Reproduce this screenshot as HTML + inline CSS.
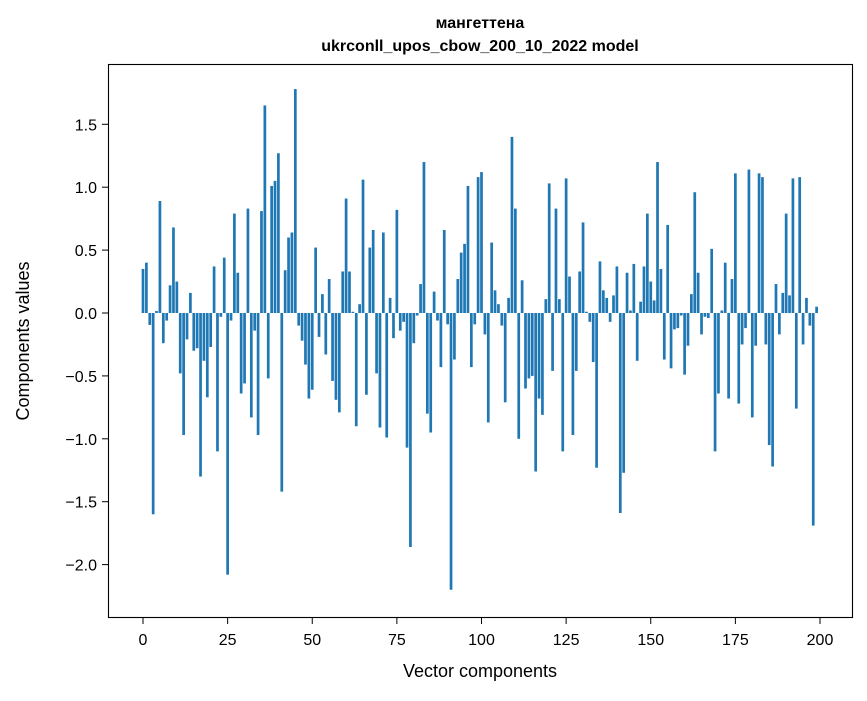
<!DOCTYPE html>
<html><head><meta charset="utf-8"><style>
body{margin:0;background:#fff;}
svg text{font-family:"Liberation Sans","DejaVu Sans",sans-serif;fill:#000;}
</style></head><body>
<svg id="chart" width="867" height="696" xmlns="http://www.w3.org/2000/svg">
<rect x="0" y="0" width="867" height="696" fill="#fff"/>
<text x="480" y="28" text-anchor="middle" font-size="16" font-weight="bold">мангеттена</text>
<text x="480" y="51" text-anchor="middle" font-size="16" font-weight="bold">ukrconll_upos_cbow_200_10_2022 model</text>
<g id="bars"></g>
<g id="xticks"></g>
<g id="yticks"></g>
<rect x="108.5" y="64.5" width="744" height="553" fill="none" stroke="#000" stroke-width="1.1"/>
<text x="480" y="677" text-anchor="middle" font-size="18">Vector components</text>
<text transform="translate(29,341) rotate(-90)" text-anchor="middle" font-size="18">Components values</text>
</svg>
<script>
const values = [0.35,0.40,-0.095,-1.60,0.016,0.89,-0.24,-0.06,0.22,0.68,
0.25,-0.48,-0.97,-0.21,0.16,-0.30,-0.28,-1.30,-0.38,-0.67,
-0.27,0.37,-1.10,-0.03,0.44,-2.08,-0.06,0.79,0.32,-0.64,
-0.56,0.83,-0.83,-0.14,-0.97,0.81,1.65,-0.52,1.01,1.05,
1.27,-1.42,0.34,0.60,0.64,1.78,-0.10,-0.22,-0.41,-0.68,
-0.61,0.52,-0.19,0.15,-0.33,0.27,-0.54,-0.69,-0.79,0.33,
0.91,0.33,0.01,-0.90,0.07,1.06,-0.65,0.52,0.66,-0.48,
-0.91,0.64,-0.99,0.12,-0.20,0.82,-0.14,-0.07,-1.07,-1.86,
-0.24,-0.02,0.23,1.20,-0.80,-0.95,0.17,-0.06,-0.43,0.66,
-0.09,-2.20,-0.37,0.27,0.48,0.55,1.01,-0.43,-0.09,1.08,
1.12,-0.17,-0.87,0.56,0.18,0.07,-0.10,-0.71,0.12,1.40,
0.83,-1.00,0.26,-0.60,-0.52,-0.50,-1.26,-0.68,-0.81,0.11,
1.03,-0.46,0.83,0.11,-1.10,1.07,0.29,-0.97,-0.46,0.33,
0.72,0.01,-0.07,-0.39,-1.23,0.41,0.18,0.12,-0.07,0.14,
0.37,-1.59,-1.27,0.32,0.02,0.39,-0.38,0.09,0.37,0.79,
0.25,0.10,1.20,0.35,-0.37,0.70,-0.44,-0.13,-0.12,-0.02,
-0.49,-0.26,0.15,0.96,0.32,-0.17,-0.03,-0.04,0.51,-1.10,
-0.64,0.02,0.40,-0.68,0.27,1.11,-0.72,-0.25,-0.12,1.14,
-0.83,-0.26,1.11,1.08,-0.25,-1.05,-1.22,0.23,-0.17,0.16,
0.79,0.14,1.07,-0.76,1.08,-0.25,0.12,-0.10,-1.69,0.05];
const xTickValues = [0,25,50,75,100,125,150,175,200];
const yTickValues = [1.5,1.0,0.5,0.0,-0.5,-1.0,-1.5,-2.0];
const yTickLabels = ["1.5","1.0","0.5","0.0","\u22120.5","\u22121.0","\u22121.5","\u22122.0"];

const NS="http://www.w3.org/2000/svg";
function xScale(v){return 143+v*3.385;}
function yScale(v){return 313-v*125.8;}
const bars=document.getElementById('bars');
values.forEach((v,i)=>{
  const r=document.createElementNS(NS,'rect');
  
  
  const x0=xScale(i-0.4), x1=xScale(i+0.4);
  const y0=Math.min(yScale(v),yScale(0)), y1=Math.max(yScale(v),yScale(0));
  r.setAttribute('x',x0);r.setAttribute('width',x1-x0);
  r.setAttribute('y',y0);r.setAttribute('height',Math.max(y1-y0,0.3));
  r.setAttribute('fill','#1f77b4');
  bars.appendChild(r);
});
const xg=document.getElementById('xticks');
xTickValues.forEach(t=>{
  const x=xScale(t);
  const l=document.createElementNS(NS,'line');
  
  
  l.setAttribute('x1',x);l.setAttribute('x2',x);l.setAttribute('y1',618);l.setAttribute('y2',624);
  l.setAttribute('stroke','#000');
  xg.appendChild(l);
  const tx=document.createElementNS(NS,'text');
  
  
  tx.setAttribute('x',x);tx.setAttribute('y',645);tx.setAttribute('text-anchor','middle');tx.setAttribute('font-size','16');
  tx.textContent=t;
  xg.appendChild(tx);
});
const yg=document.getElementById('yticks');
yTickValues.forEach((t,i)=>{
  const y=yScale(t);
  const l=document.createElementNS(NS,'line');
  
  
  l.setAttribute('x1',102);l.setAttribute('x2',108);l.setAttribute('y1',y);l.setAttribute('y2',y);
  l.setAttribute('stroke','#000');
  yg.appendChild(l);
  const tx=document.createElementNS(NS,'text');
  
  
  tx.setAttribute('x',97);tx.setAttribute('y',y+6);tx.setAttribute('text-anchor','end');tx.setAttribute('font-size','16');
  tx.textContent=yTickLabels[i];
  yg.appendChild(tx);
});
</script>
</body></html>
